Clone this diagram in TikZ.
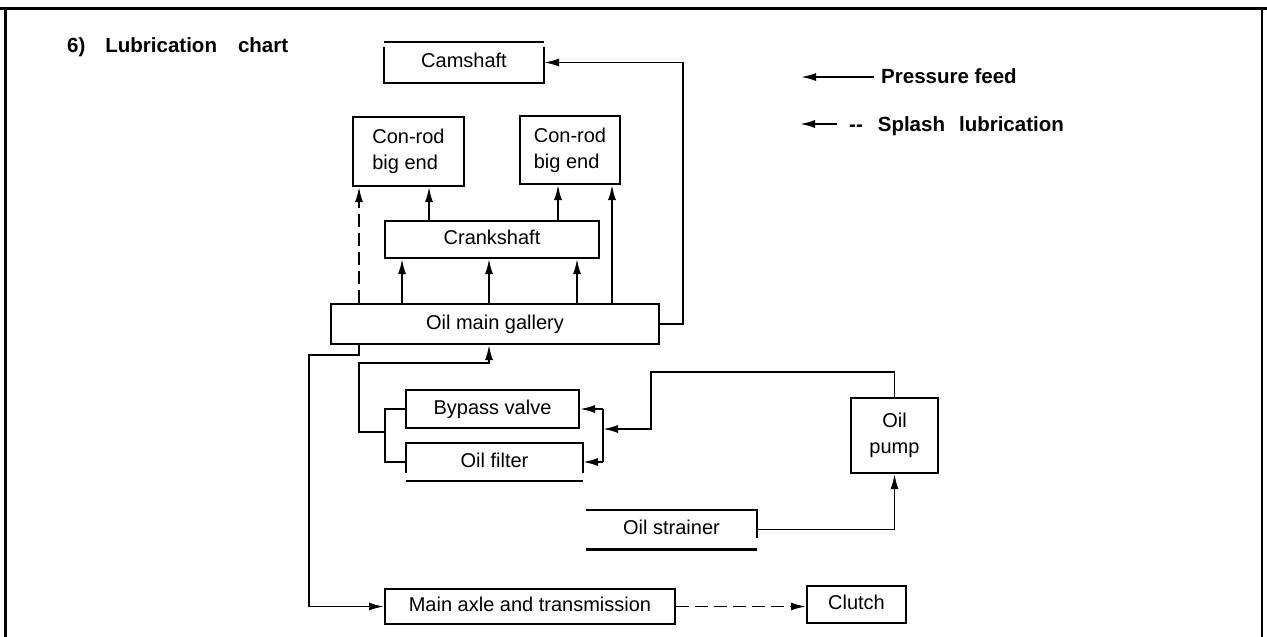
\documentclass[tikz,border=0pt]{standalone}
\usepackage{fontspec}
\setmainfont{Liberation Sans}
\usetikzlibrary{arrows.meta,calc}
\begin{document}
\begin{tikzpicture}[x=1pt,y=-1pt,
  pf/.style={line width=1.8pt,-{Latex[length=15pt,width=8pt]}},
  sp/.style={pf,dash pattern=on 13pt off 6pt},
  ln/.style={line width=2pt},
  bx/.style 2 args={draw,line width=2pt,minimum width=#1,minimum height=#2,inner sep=0pt,align=center,font=\fontsize{20}{26}\selectfont},
  one/.style={text height=14pt,text depth=4pt},
  lbl/.style={inner sep=0pt,font=\fontsize{20.5}{24}\selectfont\bfseries}]

\useasboundingbox (0,0) rectangle (1267,637);
% frame
\draw[line width=3.5pt] (0,8.5) -- (1267,8.5);
\draw[line width=2.5pt] (5.5,8.5) -- (5.5,637);
\draw[line width=2pt] (1262,8.5) -- (1262,637);

% title and legend
\node[lbl,anchor=base west] (title) at (67,52) {6)\hspace{20pt}Lubrication\hspace{21pt}chart};
\node[lbl,anchor=base west] (lg1) at (881,83) {Pressure feed};
\node[lbl,anchor=base west] (lg2) at (849,131) {-{}-\hspace{15pt}Splash\hspace{14pt}lubrication};
\coordinate (a1) at (874,77);
\coordinate (a2) at (837,124);
\draw[pf] (a1) -- ++(-73,0);
\draw[pf] (a2) -- ++(-37,0);

% boxes
\node[bx={158pt}{39pt},one,draw=none] (cam) at (464,62.5) {Camshaft};
\draw[ln] (cam.north west) -- (cam.north east);
\draw[ln] ($(cam.north west)+(0,5)$) -- (cam.south west) -- (cam.south east) -- ($(cam.north east)+(0,5)$);

\node[bx={111pt}{69pt},align=left] (crL) at (408.5,151.5) {Con-rod\\big end};
\node[bx={100pt}{68pt},align=left] (crR) at (570,150) {Con-rod\\big end};
\node[bx={214pt}{37pt},one] (crank) at (492,239.5) {Crankshaft};
\node[bx={328pt}{40pt},one] (gal) at (495,324) {Oil main gallery};
\node[bx={173pt}{38pt},one] (byp) at (492.5,409) {Bypass valve};

\node[bx={175pt}{36pt},one,draw=none] (fil) at (494.5,462) {Oil filter};
\draw[ln] ($(fil.south west)+(0,-8)$) -- (fil.north west) -- (fil.north east) -- ($(fil.south east)+(0,-8)$);
\draw[ln] (fil.south west) -- (fil.south east);

\node[bx={87pt}{75pt}] (pump) at (894.5,435.5) {Oil\\pump};

\node[bx={169pt}{37pt},one,draw=none] (str) at (671.5,529.5) {Oil strainer};
\draw[ln] (str.north west) -- (str.north east) -- ($(str.south east)+(0,-11)$);
\draw[line width=3pt] (str.south west) -- (str.south east);

\node[bx={290pt}{35pt},one] (axle) at (530,606.5) {Main axle and transmission};
\node[bx={99pt}{37pt},one] (clutch) at (856.5,604.5) {Clutch};

% connectors: gallery to camshaft
\draw[pf] (gal.east) -- ++(23,0) |- (cam.east);
% gallery to crankshaft
\foreach \x in {402,489,577} \draw[pf] (gal.north -| \x,0) -- (crank.south -| \x,0);
% crankshaft to con-rods
\draw[pf] (crank.north -| 429,0) -- (crL.south -| 429,0);
\draw[pf] (crank.north -| 558,0) -- (crR.south -| 558,0);
% gallery to con-rods
\draw[sp] (gal.north -| 359,0) -- (crL.south -| 359,0);
\draw[pf] (gal.north -| 612,0) -- (crR.south -| 612,0);
% gallery to main axle
\draw[pf] (gal.south -| 359,0) -- (359,355) -- (309,355) |- (axle.west);
% bypass / filter to gallery
\coordinate (jl) at (385,432);
\draw[ln] (byp.west) -| (jl) |- (fil.west);
\draw[pf] (jl) -- (359,432) |- (489,363) -- (gal.south -| 489,0);
% pump to bypass / filter
\coordinate (jr) at (603,429);
\draw[pf] (pump.north) -- ++(0,-25) -| (651,429) -- (jr);
\draw[ln] (jr |- byp.east) -- (jr |- fil.east);
\draw[pf] (jr |- byp.east) -- (byp.east);
\draw[pf] (jr |- fil.east) -- (fil.east);
% strainer to pump
\draw[pf] (str.east) -| (pump.south);
% main axle to clutch
\draw[sp] (axle.east) -- (clutch.west |- axle.east);
\end{tikzpicture}
\end{document}
